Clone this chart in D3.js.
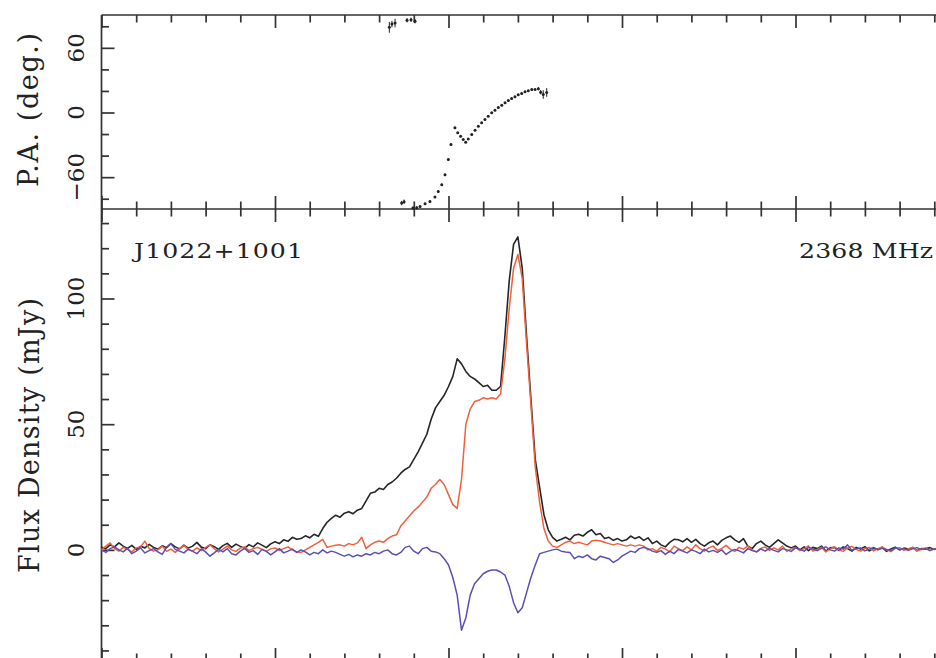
<!DOCTYPE html>
<html><head><meta charset="utf-8">
<script src="https://cdn.jsdelivr.net/npm/d3@7"></script>
<style>body{margin:0;background:#fff;overflow:hidden} svg{display:block}</style>
</head><body>
<svg id="c" width="936" height="658"></svg>
<script>
// ---------------- data ----------------
const binStart = 0, binWidth = 0.025;   // pulse phase grid (arbitrary phase units)
const stokesI = [
 1.0, 0.5, 2.0, 1.2, 2.8, 1.5, 0.6, 1.8, 0.2, 1.4,
 0.8, 2.2, 1.0, 0.3, 1.6, 0.9, 2.5, 1.2, 0.4, 1.9,
 0.7, 1.5, 3.0, 1.1, 0.5, 2.0, 1.3, 0.2, 1.7, 2.6,
 1.0, 2.3, 1.4, 0.6, 2.1, 1.2, 2.8, 1.9, 0.9, 2.4,
 3.2, 2.5, 4.0, 3.4, 5.0, 4.2, 4.5, 5.6, 4.8, 6.2,
 5.4, 8.5, 11.0, 12.5, 13.8, 13.0, 14.6, 15.2, 14.4, 15.8,
 16.5, 19.5, 22.5, 23.0, 24.5, 24.0, 26.0, 27.0, 28.5, 30.5,
 32.0, 33.0, 36.0, 39.0, 42.5, 46.0, 52.0, 56.5, 59.0, 61.5,
 65.0, 69.0, 76.0, 74.0, 71.0, 69.0, 68.0, 66.5, 65.0, 65.5,
 63.5, 63.5, 65.0, 85.0, 107.0, 121.5, 124.5, 112.0, 85.0, 60.0,
 36.0, 25.0, 14.0, 8.0, 5.0, 3.5, 4.2, 5.0, 4.0, 5.8,
 6.2, 5.5, 7.0, 8.0, 6.0, 6.5, 4.5, 5.0, 3.8, 4.5,
 3.5, 4.0, 5.5, 4.5, 5.2, 3.8, 4.8, 2.5, 3.5, 2.0,
 1.2, 3.0, 4.2, 4.0, 3.2, 4.5, 3.0, 4.2, 2.5, 1.5,
 2.8, 3.5, 2.0, 3.8, 4.8, 5.5, 4.0, 3.0, 4.5, 1.5,
 0.5, 2.5, 3.5, 2.0, 1.0, 2.5, 4.0, 2.8, 1.5, 0.8,
 1.5, 0.0, 1.2, -0.3, 1.0, 0.5, 1.5, -0.5, 0.8, 1.0,
 -0.2, 1.2, 0.5, -0.5, 1.0, 0.3, 1.3, -0.4, 0.6, 0.2,
 1.0, -0.6, 0.4, 1.1, 0.0, 0.7, 0.3, 1.0, -0.3, 0.5,
 0.4, 0.9, 0.2, 0.6
];
const stokesL = [
 0.0, 1.5, 2.8, 0.5, -0.5, 1.0, 0.2, -0.8, 0.8, 1.2,
 3.5, 0.5, -0.5, 0.0, 1.5, -0.6, 0.3, -1.0, 0.5, 1.8,
 0.2, -0.5, 0.8, -0.3, 1.0, 2.0, 0.5, -0.8, 0.3, 1.5,
 0.0, -0.6, 0.7, 1.2, -0.3, 0.5, 1.0, 0.2, -0.5, 0.4,
 0.8, -0.2, 0.5, 1.2, 0.0, -0.8, -1.0, 0.0, 1.0, 2.0,
 3.0, 4.2, 1.0, 1.5, 1.8, 2.0, 1.5, 2.5, 2.0, 2.8,
 5.0, 0.5, 2.0, 3.0, 3.5, 3.0, 4.5, 5.5, 6.0, 9.5,
 11.5, 13.5, 15.5, 17.0, 19.0, 21.0, 24.5, 26.0, 28.0, 26.0,
 22.0, 18.0, 16.5, 28.0, 50.0, 56.0, 59.0, 59.5, 60.5, 60.0,
 60.5, 60.0, 62.0, 76.0, 96.0, 112.0, 117.5, 108.0, 82.0, 58.0,
 33.0, 19.0, 8.5, 3.5, 1.5, 1.0, 2.0, 3.0, 3.5, 2.5,
 3.0, 2.5, 2.0, 3.5, 3.8, 3.5, 3.0, 2.5, 2.0, 2.5,
 2.0, 1.5, 2.0, 1.5, 2.0, 1.5, 0.0, 0.5, -0.5, 1.0,
 0.3, -0.8, 1.5, 0.5, -0.3, 1.2, 0.0, 2.0, 0.5, -0.5,
 0.8, 1.5, -0.2, 0.6, 1.8, 0.2, -0.6, 1.0, 0.3, 1.5,
 0.0, -0.8, 0.6, 1.2, -0.2, 0.8, 0.0, 1.5, -0.6, 0.4,
 1.0, -0.3, 0.5, 1.6, -0.5, 0.2, 1.0, -0.8, 0.4, 1.2,
 0.0, -0.6, 0.8, 1.4, 0.2, -0.5, 0.6, 1.0, -0.4, 0.5,
 1.2, 0.0, -0.7, 0.6, 0.9, -0.2, 0.4, 1.0, -0.5, 0.3,
 0.8, -0.2, 0.5, 0.1
];
const stokesV = [
 0.0, -1.0, 0.5, 1.2, 0.0, -0.8, 0.6, -1.5, -0.5, 0.8,
 -1.2, -0.3, 0.5, -0.8, -1.8, 1.0, 2.5, 0.2, -0.5, -1.2,
 0.3, -0.6, -1.5, 0.4, -0.8, -2.5, -1.2, 0.2, -0.8, 0.5,
 -1.5, -2.0, -0.5, 0.6, -1.0, -0.3, -1.8, 0.2, -0.6, -2.0,
 -0.8, 0.5, -1.2, -0.5, 0.3, -1.0, 0.0, -0.8, -2.0, -1.0,
 -1.5, 0.0, -1.2, -0.5, -1.0, -1.8, -2.5, -1.8, -2.8, -2.0,
 -2.5, -1.5, -2.0, -1.0, -1.5, -0.5, 0.0, -1.5, -2.0, -1.0,
 1.0, 1.5, -0.5, -1.5, 0.5, 1.0, -0.5, -0.8, -1.5, -3.5,
 -6.0, -11.0, -18.0, -32.0, -27.0, -18.0, -13.5, -11.5, -9.5, -8.5,
 -8.0, -8.0, -8.8, -10.0, -14.5, -21.0, -25.0, -23.0, -17.0, -11.0,
 -6.0, -1.5, -1.0, -0.5, 0.0, 0.3, -0.5, -0.8, -1.0, -3.5,
 -2.5, -3.0, -2.0, -3.5, -4.0, -2.5, -3.0, -3.5, -5.0, -4.0,
 -2.5, -1.5, -0.5, -1.0, 0.5, 1.0, 0.5, -0.5, -1.0, -0.3,
 -1.8, -0.5, -1.5, 0.2, -0.5, -1.2, 0.0, -0.6, -1.5, 0.3,
 -0.8, -0.2, -1.0, 0.0, -1.8, -0.6, 0.2, -0.4, -1.2, 0.5,
 -0.3, -0.8, 0.4, -0.5, 0.6, -0.2, -0.8, 0.5, 0.0, -0.6,
 0.8, 0.2, -0.5, 1.0, 0.3, -0.3, 0.6, 1.2, 0.0, -0.5,
 0.8, 0.3, 2.0, -0.2, 0.5, 0.8, -0.4, 0.3, 1.0, 0.0,
 0.6, 0.2, -0.3, 0.8, 0.2, 0.5, -0.2, 0.4, 0.9, 0.1,
 0.5, -0.3, 0.4, 0.2
];
const paPhase = [1.659, 1.674, 1.692, 1.761, 1.784, 1.807,
 1.730, 1.744, 1.795, 1.817, 1.836, 1.865, 1.893, 1.922, 1.941, 1.961, 1.980, 1.999, 2.014,
 2.037, 2.053, 2.070, 2.085, 2.099, 2.114, 2.134, 2.153, 2.172, 2.191, 2.210, 2.229, 2.249,
 2.268, 2.287, 2.307, 2.326, 2.345, 2.364, 2.383, 2.402, 2.422, 2.441, 2.460, 2.480, 2.499,
 2.518, 2.531, 2.546, 2.566];
const paAngle = [79, 82, 83, 85.6, 86, 84.7,
 -84, -82.8, -88.7, -88.4, -87.2, -84.7, -82.5, -78.4, -73.2, -67, -57.7, -43.7, -29.8,
 -14.2, -18.9, -22, -25.1, -27.6, -24.5, -20.5, -16.5, -12.7, -9.6, -6.5, -3.4, -0.3,
 2.1, 4.7, 6.8, 9.0, 11.2, 13.0, 14.6, 16.5, 17.7, 19.3, 20.2, 21.4, 21.4,
 22.0, 18.9, 16.7, 18.6];
const paErr = [5, 3, 4, 2, 2, 2,
 2, 2, 1.5, 1.5, 1.2, 1, 1, 1, 1, 1, 1, 1, 1,
 1, 0.8, 0.8, 0.8, 0.8, 0.8, 0.8, 0.8, 0.8, 0.8, 0.8, 0.8, 0.8,
 0.8, 0.8, 0.8, 0.8, 0.8, 0.8, 0.8, 0.8, 0.8, 0.8, 0.8, 1, 1,
 1.5, 2, 4, 4];
const paMajorTicks = [-60, 0, 60];
const paMinorTicks = [-80, -40, -20, 20, 40, 80];
const fluxMajorTicks = [0, 50, 100];
const fluxMinorTicks = [-40, -30, -20, -10, 10, 20, 30, 40, 60, 70, 80, 90, 110, 120, 130];
const phaseMajorTicks = [0, 1, 2, 3, 4, 5];
const phaseMinorTicks = [0.2,0.4,0.6,0.8,1.2,1.4,1.6,1.8,2.2,2.4,2.6,2.8,3.2,3.4,3.6,3.8,4.2,4.4,4.6,4.8,5.2,5.4];
const pulsarName = "J1022+1001";
const freqLabel = "2368 MHz";
const paTitle = "P.A. (deg.)";
const fluxTitle = "Flux Density (mJy)";

// ---------------- drawing ----------------
const svg = d3.select("#c");
const X0 = 101.5, XU = 173.5;
const x = d3.scaleLinear().domain([0, 5.5]).range([X0, X0 + 5.5 * XU]);
const yPA = d3.scaleLinear().domain([-90, 90]).range([209.5, 15.5]);
const yF = d3.scaleLinear().domain([-44.2, 135.6]).range([661, 209]);
const TOP = 15, MID = 209, BOT = 661;
const ink = "#333", sw = 1.7, MAJ = 13, MIN = 7.5;
const font = "'DejaVu Serif', serif";

function tickAxis(gen, vals, size, tx, ty) {
  const g = svg.append("g").attr("transform", `translate(${tx},${ty})`)
    .call(gen.tickValues(vals).tickSize(-size).tickSizeOuter(0).tickFormat(""));
  g.select(".domain").remove();
  g.selectAll("line").attr("stroke", ink).attr("stroke-width", sw);
  return g;
}
// x ticks
[[d3.axisTop(x), TOP], [d3.axisBottom(x), MID], [d3.axisTop(x), MID], [d3.axisBottom(x), BOT]].forEach(([gen, yy]) => {
  tickAxis(gen, phaseMajorTicks, MAJ, 0, yy);
});
[[d3.axisTop(x), TOP], [d3.axisBottom(x), MID], [d3.axisTop(x), MID], [d3.axisBottom(x), BOT]].forEach(([gen, yy]) => {
  tickAxis(gen, phaseMinorTicks, MIN, 0, yy);
});
// y ticks
tickAxis(d3.axisLeft(yPA), paMajorTicks, MAJ, X0, 0);
tickAxis(d3.axisLeft(yPA), paMinorTicks, MIN, X0, 0);
tickAxis(d3.axisLeft(yF), fluxMajorTicks, MAJ, X0, 0);
tickAxis(d3.axisLeft(yF), fluxMinorTicks, MIN, X0, 0);

// frame
const frame = svg.append("g").attr("stroke", ink).attr("stroke-width", sw).attr("fill", "none");
frame.append("line").attr("x1", X0).attr("x2", X0).attr("y1", TOP).attr("y2", BOT);
[TOP, MID, BOT].forEach(yy => frame.append("line").attr("x1", X0).attr("x2", 1100).attr("y1", yy).attr("y2", yy));

// tick labels (rotated)
const fmt = v => v < 0 ? "\u2212" + Math.abs(v) : String(v);
paMajorTicks.forEach(v => svg.append("text").attr("transform", `translate(84,${yPA(v)}) rotate(-90)`)
  .attr("text-anchor", "middle").attr("font-family", font).attr("font-size", 23).attr("fill", "#222").text(fmt(v)));
fluxMajorTicks.forEach(v => svg.append("text").attr("transform", `translate(84,${yF(v)}) rotate(-90)`)
  .attr("text-anchor", "middle").attr("font-family", font).attr("font-size", 23).attr("fill", "#222").text(fmt(v)));

// axis titles
svg.append("text").attr("transform", "translate(38,110) rotate(-90)").attr("text-anchor", "middle")
  .attr("font-family", font).attr("font-size", 27).attr("fill", "#222")
  .attr("textLength", 154).attr("lengthAdjust", "spacing").text(paTitle);
svg.append("text").attr("transform", "translate(39,435.5) rotate(-90)").attr("text-anchor", "middle")
  .attr("font-family", font).attr("font-size", 27).attr("fill", "#222")
  .attr("textLength", 275).attr("lengthAdjust", "spacing").text(fluxTitle);

// panel labels (Hershey-like wide glyphs: horizontally stretched)
const SX = 1.2;
svg.append("text").attr("transform", `translate(134,258) scale(${SX},1)`).attr("font-family", font)
  .attr("font-size", 21).attr("fill", "#222")
  .attr("textLength", 169 / SX).attr("lengthAdjust", "spacing").text(pulsarName);
svg.append("text").attr("transform", `translate(799,258) scale(${SX},1)`).attr("font-family", font)
  .attr("font-size", 21).attr("fill", "#222")
  .attr("textLength", 134 / SX).attr("lengthAdjust", "spacing").text(freqLabel);

// profiles
const phaseOf = i => binStart + i * binWidth;
const line = d3.line().x((d, i) => x(phaseOf(i))).y(d => yF(d));
const series = [
  {vals: stokesI, color: "#262626", w: 1.6},
  {vals: stokesL, color: "#f0603c", w: 1.5},
  {vals: stokesV, color: "#5b4fb5", w: 1.5}
];
series.forEach(s => svg.append("path").datum(s.vals).attr("d", line)
  .attr("fill", "none").attr("stroke", s.color).attr("stroke-width", s.w).attr("stroke-linejoin", "round"));

// position angles
const pa = svg.append("g");
paPhase.forEach((p, i) => {
  pa.append("line").attr("x1", x(p)).attr("x2", x(p))
    .attr("y1", yPA(paAngle[i] - paErr[i])).attr("y2", yPA(paAngle[i] + paErr[i]))
    .attr("stroke", "#222").attr("stroke-width", 1);
  pa.append("circle").attr("cx", x(p)).attr("cy", yPA(paAngle[i])).attr("r", 1.5).attr("fill", "#222");
});
</script>
</body></html>
